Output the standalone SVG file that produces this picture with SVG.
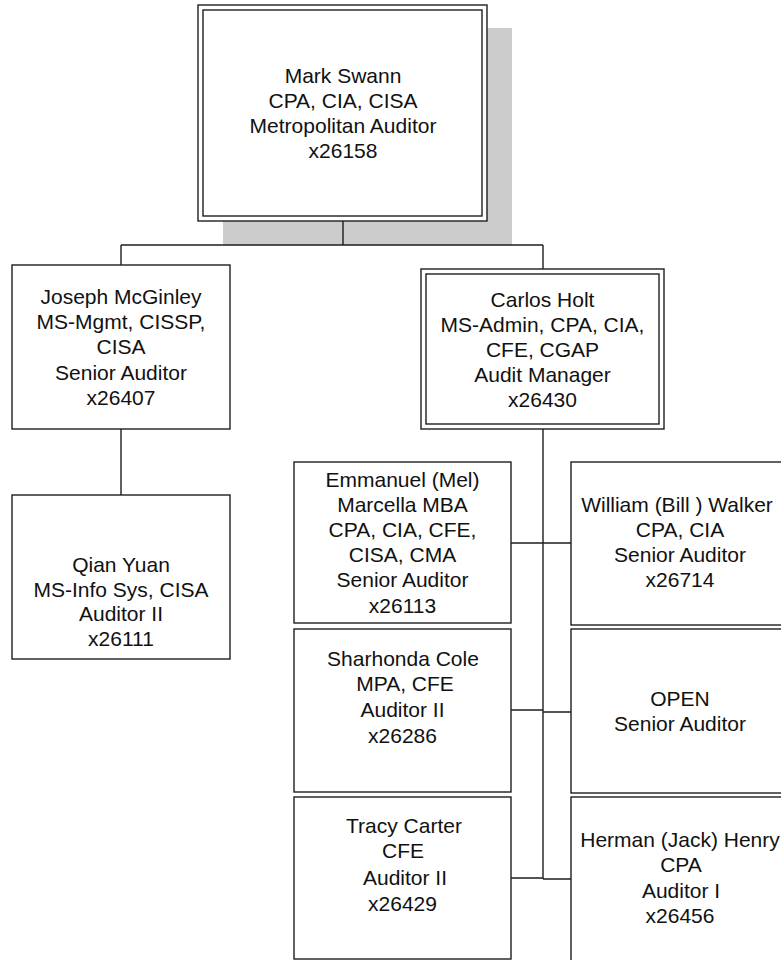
<svg xmlns="http://www.w3.org/2000/svg" width="781" height="960" viewBox="0 0 781 960">
<style>
.box{fill:#fff;stroke:#1e1e1e;stroke-width:1.4}
.in{fill:none;stroke:#1e1e1e;stroke-width:1.4}
.ln{stroke:#1e1e1e;stroke-width:1.4;fill:none}
text{font-family:"Liberation Sans",Arial,sans-serif;font-size:21px;fill:#111;text-anchor:middle}
</style>
<rect width="781" height="960" fill="#fff"/>
<rect x="223" y="28" width="289" height="217" fill="#cccccc"/>
<g id="connectors">
<path class="ln" d="M343,221V245M121,245H543M121,245V265M543,245V269M121,429V495M543,429V879M511,543H571M511,710H543M543,712H571M511,878H543M543,879H571"/>
</g>
<g id="mark">
<rect class="box" x="198" y="5" width="289" height="216"/>
<rect class="in" x="203" y="10" width="279" height="206"/>
<text x="343" y="83">Mark Swann</text>
<text x="343" y="108">CPA, CIA, CISA</text>
<text x="343" y="133">Metropolitan Auditor</text>
<text x="343" y="158">x26158</text>
</g>
<g id="joseph">
<rect class="box" x="12" y="265" width="218" height="164"/>
<text x="121" y="304">Joseph McGinley</text>
<text x="121" y="329">MS-Mgmt, CISSP,</text>
<text x="121" y="354">CISA</text>
<text x="121" y="380">Senior Auditor</text>
<text x="121" y="405">x26407</text>
</g>
<g id="carlos">
<rect class="box" x="421" y="269" width="243" height="160"/>
<rect class="in" x="426" y="274" width="233" height="150"/>
<text x="542.5" y="307">Carlos Holt</text>
<text x="542.5" y="332">MS-Admin, CPA, CIA,</text>
<text x="542.5" y="357">CFE, CGAP</text>
<text x="542.5" y="382">Audit Manager</text>
<text x="542.5" y="407">x26430</text>
</g>
<g id="qian">
<rect class="box" x="12" y="495" width="218" height="164"/>
<text x="121" y="572">Qian Yuan</text>
<text x="121" y="597">MS-Info Sys, CISA</text>
<text x="121" y="621">Auditor II</text>
<text x="121" y="646">x26111</text>
</g>
<g id="emmanuel">
<rect class="box" x="294" y="462" width="217" height="161"/>
<text x="402.5" y="487">Emmanuel (Mel)</text>
<text x="402.5" y="512">Marcella MBA</text>
<text x="402.5" y="537">CPA, CIA, CFE,</text>
<text x="402.5" y="562">CISA, CMA</text>
<text x="402.5" y="587">Senior Auditor</text>
<text x="402.5" y="613">x26113</text>
</g>
<g id="william">
<rect class="box" x="571" y="462" width="217" height="163"/>
<text x="677" y="512">William (Bill ) Walker</text>
<text x="680" y="537">CPA, CIA</text>
<text x="680" y="562">Senior Auditor</text>
<text x="680" y="587">x26714</text>
</g>
<g id="sharhonda">
<rect class="box" x="294" y="629" width="217" height="163"/>
<text x="403" y="666">Sharhonda Cole</text>
<text x="405" y="691">MPA, CFE</text>
<text x="402.5" y="717">Auditor II</text>
<text x="402.5" y="743">x26286</text>
</g>
<g id="open">
<rect class="box" x="571" y="629" width="217" height="164"/>
<text x="680" y="706">OPEN</text>
<text x="680" y="731">Senior Auditor</text>
</g>
<g id="tracy">
<rect class="box" x="294" y="797" width="217" height="162"/>
<text x="404" y="833">Tracy Carter</text>
<text x="403" y="858">CFE</text>
<text x="405" y="885">Auditor II</text>
<text x="402.5" y="911">x26429</text>
</g>
<g id="herman">
<rect class="box" x="571" y="797" width="217" height="170"/>
<text x="680" y="847">Herman (Jack) Henry</text>
<text x="681" y="872">CPA</text>
<text x="681" y="898">Auditor I</text>
<text x="680" y="923">x26456</text>
</g>
</svg>
